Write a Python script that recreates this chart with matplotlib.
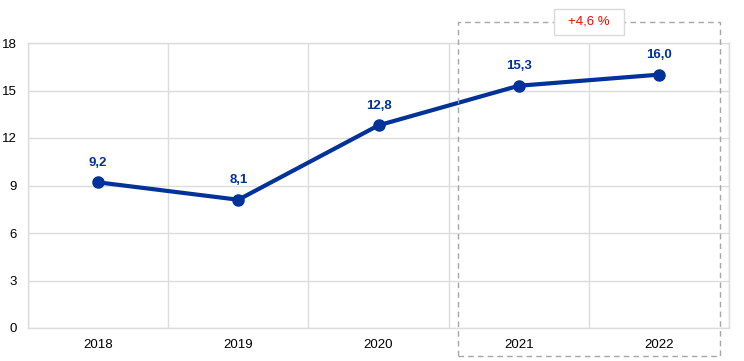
import matplotlib
matplotlib.use("Agg")
import matplotlib.pyplot as plt
from matplotlib.patches import Rectangle

years = ["2018", "2019", "2020", "2021", "2022"]
values = [9.2, 8.1, 12.8, 15.3, 16.0]
labels = ["9,2", "8,1", "12,8", "15,3", "16,0"]
change_label = "+4,6 %"
yticks = [0, 3, 6, 9, 12, 15, 18]

plt.rcParams['font.family'] = ['Liberation Sans', 'DejaVu Sans']
blue = "#003299"
grid = "#dcdcdc"

W, H = 744, 361
fig = plt.figure(figsize=(W/100, H/100), dpi=100)
ax = fig.add_axes([28/W, 1-328/H, (729-28)/W, (328-43)/H])

x = list(range(len(years)))
ax.plot(x, values, color=blue, lw=3.0, marker='o', ms=8, zorder=3,
        solid_capstyle='round')
for xi, v, lab in zip(x, values, labels):
    ax.annotate(lab, (xi, v), xytext=(0, 14), textcoords='offset points',
                ha='center', va='center', color=blue, fontsize=9.5, fontweight='bold')

ax.set_xlim(-0.5, len(years)-0.5)
ax.set_ylim(0, 18)
ax.set_yticks(yticks)
ax.set_xticks(x)
ax.set_xticklabels(years)
ax.set_xticks([i+0.5 for i in range(-1, len(years))], minor=True)
ax.grid(True, axis='y', color=grid, lw=1)
ax.grid(True, axis='x', which='minor', color=grid, lw=1)
ax.tick_params(axis='both', which='both', length=0, labelsize=9.5, colors='black')
ax.tick_params(axis='x', pad=8)
ax.tick_params(axis='y', pad=8)
for s in ax.spines.values():
    s.set_color(grid)
    s.set_linewidth(1)
ax.set_axisbelow(True)

# dashed highlight box (figure pixel coords)
fig.patches.append(Rectangle((458/W, 1-356/H), (720-458)/W, (356-22)/H,
                             transform=fig.transFigure, fill=False,
                             edgecolor='#a6a6a6', lw=1, ls=(0, (4, 3)), zorder=5))
fig.patches.append(Rectangle((554/W, 1-35/H), (624-554)/W, (35-9)/H,
                             transform=fig.transFigure, facecolor='white',
                             edgecolor='#d9d9d9', lw=1, zorder=6))
fig.text(589/W, 1-22/H, change_label, color='red', fontsize=9.5,
         ha='center', va='center', zorder=7)

fig.savefig("out.png", dpi=100)
